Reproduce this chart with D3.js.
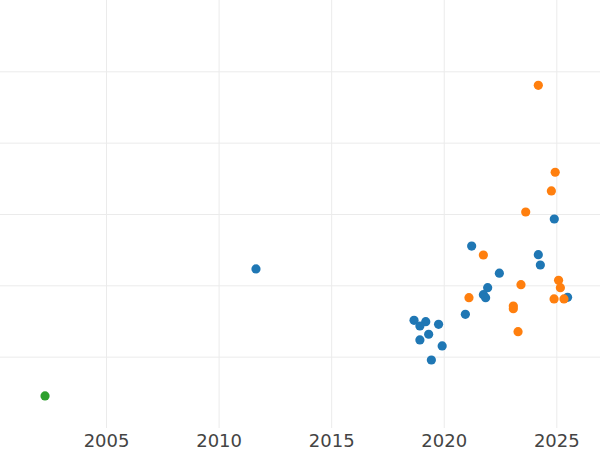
<!DOCTYPE html>
<html>
<head>
<meta charset="utf-8">
<script src="https://cdn.jsdelivr.net/npm/d3@7"></script>
<style>
  html, body { margin: 0; padding: 0; background: #fff; }
  svg { display: block; }
</style>
</head>
<body>
<svg id="chart" width="600" height="450"></svg>
<script>
// ---- data ----
const xTickValues = [2005, 2010, 2015, 2020, 2025];
const xTickLabels = ["2005", "2010", "2015", "2020", "2025"];
const yGridValues = [1, 2, 3, 4, 5];

const blueYears = [2011.66, 2024.91, 2021.24, 2024.20, 2024.29, 2022.47, 2021.95, 2021.76, 2021.86, 2025.50,
                   2020.96, 2018.68, 2019.20, 2018.94, 2019.77, 2019.33, 2018.94, 2019.93, 2019.45];
const blueValues = [2.23, 2.93, 2.55, 2.43, 2.285, 2.17, 1.967, 1.869, 1.827, 1.832,
                    1.594, 1.51, 1.49, 1.43, 1.454, 1.314, 1.234, 1.15, 0.953];

const orangeYears = [2024.20, 2024.95, 2024.78, 2023.64, 2021.76, 2025.10, 2023.43, 2025.18, 2021.12, 2024.90,
                     2025.34, 2023.09, 2023.09, 2023.30];
const orangeValues = [4.804, 3.585, 3.323, 3.028, 2.425, 2.071, 2.009, 1.967, 1.827, 1.809,
                      1.809, 1.71, 1.673, 1.35];

const greenYears = [2002.29];
const greenValues = [0.449];

const seriesNames = ["blue", "orange", "green"];
const seriesColors = ["#1f77b4", "#ff7f0e", "#2ca02c"];

// ---- chart ----
const W = 600, plotH = 428;
const svg = d3.select("#chart");
const x = d3.scaleLinear().domain([2000.29, 2026.94]).range([0, W]);
const y = d3.scaleLinear().domain([0, 6]).range([plotH, 0]);

// horizontal grid
svg.append("g")
  .attr("class", "ygrid")
  .call(d3.axisLeft(y).tickValues(yGridValues).tickSize(-W).tickFormat(""))
  .call(g => g.select(".domain").remove())
  .call(g => g.selectAll("line").attr("stroke", "#ebebeb").attr("stroke-width", 1));

// vertical grid
svg.append("g")
  .attr("class", "xgrid")
  .attr("transform", `translate(0,${plotH})`)
  .call(d3.axisBottom(x).tickValues(xTickValues).tickSize(-plotH).tickFormat(""))
  .call(g => g.select(".domain").remove())
  .call(g => g.selectAll("line").attr("stroke", "#ebebeb").attr("stroke-width", 1));

// x tick labels
svg.append("g")
  .attr("class", "xaxis")
  .attr("transform", `translate(0,${plotH})`)
  .call(d3.axisBottom(x).tickValues(xTickValues).tickSize(0).tickPadding(0)
        .tickFormat((d, i) => xTickLabels[i]))
  .call(g => g.select(".domain").remove())
  .call(g => g.selectAll("text")
    .attr("y", 19)
    .attr("dy", 0)
    .attr("fill", "#444")
    .style("font-family", "'DejaVu Sans', Verdana, sans-serif")
    .style("font-size", "18px"));

const series = [
  {years: blueYears, values: blueValues},
  {years: orangeYears, values: orangeValues},
  {years: greenYears, values: greenValues}
];

series.forEach((s, si) => {
  const pts = s.years.map((yr, i) => ({yr, v: s.values[i]}));
  svg.append("g")
    .attr("class", "series-" + seriesNames[si])
    .selectAll("circle")
    .data(pts)
    .join("circle")
    .attr("cx", d => x(d.yr))
    .attr("cy", d => y(d.v))
    .attr("r", 4.6)
    .attr("fill", seriesColors[si]);
});
</script>
</body>
</html>
